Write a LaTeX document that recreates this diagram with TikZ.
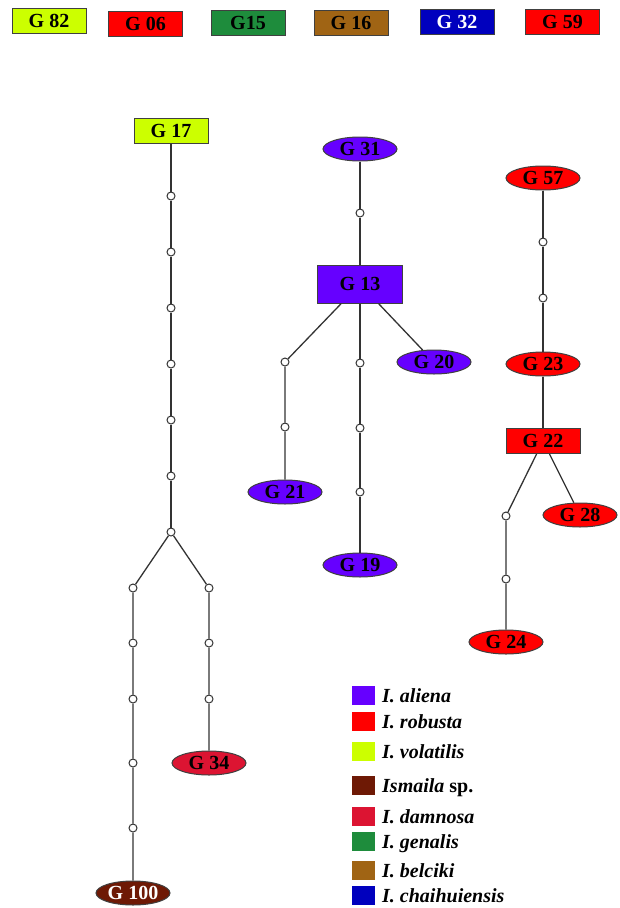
\documentclass[tikz,border=0pt]{standalone}
\usepackage{fontspec}
\setmainfont{Liberation Serif}
\usepackage{xcolor}
\usetikzlibrary{shapes.geometric}

% species colours
\definecolor{volcol}{RGB}{204,255,0}
\definecolor{robcol}{RGB}{255,0,0}
\definecolor{gencol}{RGB}{30,140,60}
\definecolor{belcol}{RGB}{160,100,20}
\definecolor{chacol}{RGB}{0,0,190}
\definecolor{alicol}{RGB}{102,0,255}
\definecolor{ismcol}{RGB}{110,25,5}
\definecolor{damcol}{RGB}{220,20,50}

\tikzset{
  hapbox/.style={draw=black!75, line width=1pt, minimum width=74pt, minimum height=25pt, inner sep=0pt, font=\bfseries\fontsize{20}{20}\selectfont},
  hapell/.style={ellipse, draw=black!75, line width=1pt, minimum width=74pt, minimum height=24pt, inner sep=0pt, font=\bfseries\fontsize{20}{20}\selectfont},
  mv/.style={circle, draw=black!80, fill=white, line width=1pt, minimum size=8pt, inner sep=0pt},
  link/.style={draw=black!80, line width=1.3pt},
  swatch/.style={minimum width=23pt, minimum height=19pt, inner sep=0pt},
  swatchtext/.style={anchor=base west, inner sep=0pt, font=\bfseries\itshape\fontsize{20}{20}\selectfont}
}

\begin{document}
\begin{tikzpicture}[x=1pt,y=-1pt]
  \useasboundingbox (0,0) rectangle (619,908);

  % Haplotypes listed on top
  \node[hapbox, fill=volcol] (k82) at (49,21) {G 82};
  \node[hapbox, fill=robcol] (k06) at (145.5,23.5) {G 06};
  \node[hapbox, fill=gencol] (k15) at (248,23) {G15};
  \node[hapbox, fill=belcol] (k16) at (351,23) {G 16};
  \node[hapbox, fill=chacol, text=white] (k32) at (457,21.5) {G 32};
  \node[hapbox, fill=robcol] (k59) at (562.5,22) {G 59};

  % Network 1: G17 down to G100 and G34
  \node[hapbox, fill=volcol] (g17) at (171,131) {G 17};
  \node[mv] (a1) at (171,196) {};
  \node[mv] (a2) at (171,252) {};
  \node[mv] (a3) at (171,308) {};
  \node[mv] (a4) at (171,364) {};
  \node[mv] (a5) at (171,420) {};
  \node[mv] (a6) at (171,476) {};
  \node[mv] (a7) at (171,532) {}; % split
  \node[mv] (b1) at (133,588) {};
  \node[mv] (b2) at (133,643) {};
  \node[mv] (b3) at (133,699) {};
  \node[mv] (b4) at (133,763) {};
  \node[mv] (b5) at (133,828) {};
  \node[hapell, fill=ismcol, text=white] (g100) at (133,893) {G 100};
  \node[mv] (c1) at (209,588) {};
  \node[mv] (c2) at (209,643) {};
  \node[mv] (c3) at (209,699) {};
  \node[hapell, fill=damcol] (g34) at (209,763) {G 34};

  \draw[link] (g17) -- (a1) -- (a2) -- (a3) -- (a4) -- (a5) -- (a6) -- (a7);
  \draw[link] (a7) -- (b1) -- (b2) -- (b3) -- (b4) -- (b5) -- (g100);
  \draw[link] (a7) -- (c1) -- (c2) -- (c3) -- (g34);

  % Network 2: around G13
  \node[hapell, fill=alicol] (g31) at (360,149) {G 31};
  \node[mv] (d1) at (360,213) {};
  \node[hapbox, fill=alicol, minimum width=85pt, minimum height=38pt] (g13) at (360,284) {G 13};
  \node[hapell, fill=alicol] (g20) at (434,362) {G 20};
  \node[mv] (e1) at (285,362) {};
  \node[mv] (e2) at (285,427) {};
  \node[hapell, fill=alicol] (g21) at (285,492) {G 21};
  \node[mv] (f1) at (360,363) {};
  \node[mv] (f2) at (360,428) {};
  \node[mv] (f3) at (360,492) {};
  \node[hapell, fill=alicol] (g19) at (360,565) {G 19};

  \draw[link] (g31) -- (d1) -- (g13);
  \draw[link] (g13) -- (g20);
  \draw[link] (g13) -- (e1) -- (e2) -- (g21);
  \draw[link] (g13) -- (f1) -- (f2) -- (f3) -- (g19);

  % Network 3: around G22
  \node[hapell, fill=robcol] (g57) at (543,178) {G 57};
  \node[mv] (h1) at (543,242) {};
  \node[mv] (h2) at (543,298) {};
  \node[hapell, fill=robcol] (g23) at (543,364) {G 23};
  \node[hapbox, fill=robcol] (g22) at (543,441) {G 22};
  \node[hapell, fill=robcol] (g28) at (580,515) {G 28};
  \node[mv] (i1) at (506,516) {};
  \node[mv] (i2) at (506,579) {};
  \node[hapell, fill=robcol] (g24) at (506,642) {G 24};

  \draw[link] (g57) -- (h1) -- (h2) -- (g23) -- (g22);
  \draw[link] (g22) -- (g28);
  \draw[link] (g22) -- (i1) -- (i2) -- (g24);

  % Species key
  \node[swatch, fill=alicol] (s1) at (363.5,695) {};
  \node[swatch, fill=robcol] (s2) at (363.5,721) {};
  \node[swatch, fill=volcol] (s3) at (363.5,751) {};
  \node[swatch, fill=ismcol] (s4) at (363.5,785) {};
  \node[swatch, fill=damcol] (s5) at (363.5,816) {};
  \node[swatch, fill=gencol] (s6) at (363.5,841) {};
  \node[swatch, fill=belcol] (s7) at (363.5,870) {};
  \node[swatch, fill=chacol] (s8) at (363.5,895) {};
  \node[swatchtext] (t1) at (382,702) {I. aliena};
  \node[swatchtext] (t2) at (382,728) {I. robusta};
  \node[swatchtext] (t3) at (382,758) {I. volatilis};
  \node[swatchtext] (t4) at (382,792) {Ismaila \upshape sp.};
  \node[swatchtext] (t5) at (382,823) {I. damnosa};
  \node[swatchtext] (t6) at (382,848) {I. genalis};
  \node[swatchtext] (t7) at (382,877) {I. belciki};
  \node[swatchtext] (t8) at (382,902) {I. chaihuiensis};

\end{tikzpicture}
\end{document}
